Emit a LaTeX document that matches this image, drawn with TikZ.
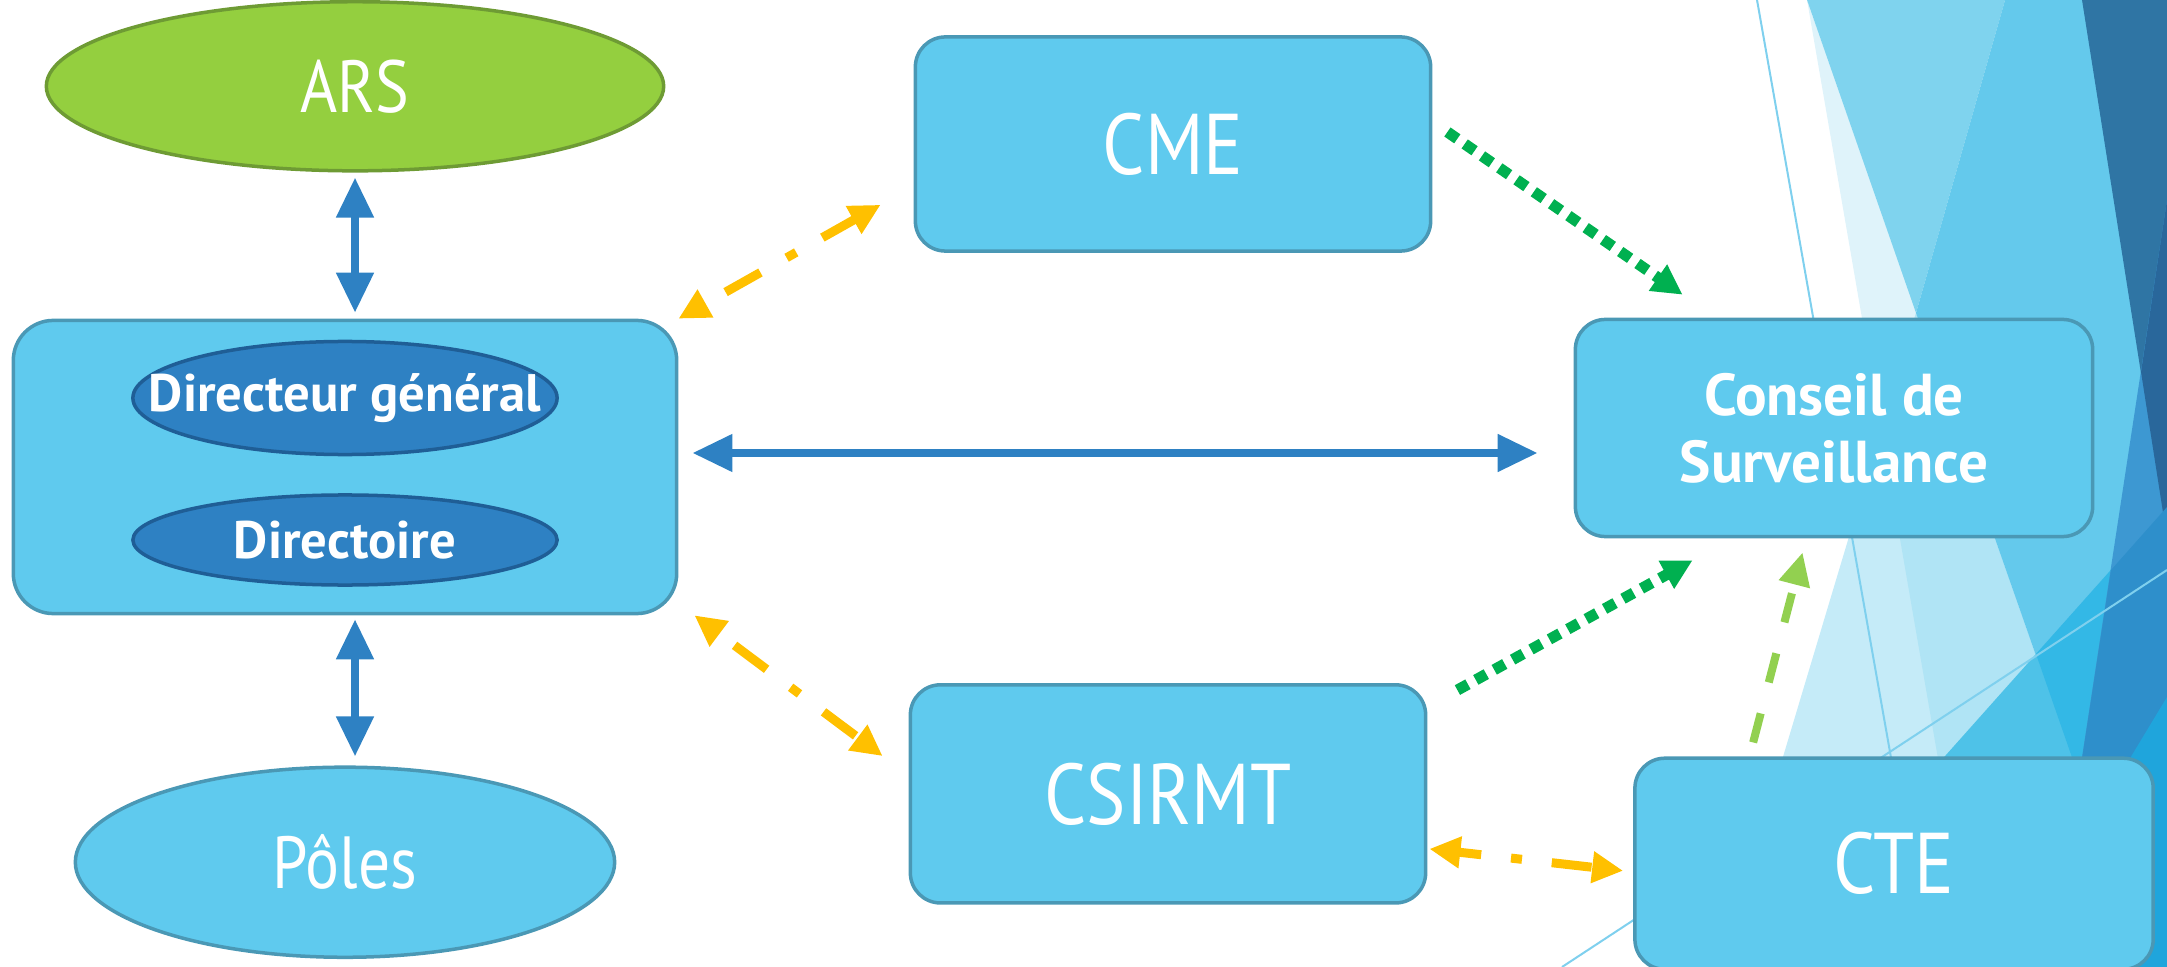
\documentclass[tikz,border=0pt]{standalone}
\usepackage{fontspec}
\setmainfont{PT Sans}
\newfontfamily\narrowfont[FakeStretch=0.86]{PT Sans}
\usetikzlibrary{arrows.meta, positioning, shapes.geometric, calc}
\definecolor{BoxFill}{HTML}{5FCAEE}
\definecolor{BoxBorder}{HTML}{4A98B5}
\definecolor{OvalFill}{HTML}{2E81C3}
\definecolor{OvalBorder}{HTML}{1F5E96}
\definecolor{ArsFill}{HTML}{94CF3F}
\definecolor{ArsBorder}{HTML}{6E9B34}
\definecolor{LinkBlue}{HTML}{2E81C3}
\definecolor{LinkYellow}{HTML}{FFC000}
\definecolor{LinkGreen}{HTML}{00B050}
\definecolor{LinkLime}{HTML}{92D050}
\definecolor{FacetPale}{HTML}{DFF3FA}
\definecolor{FacetUp}{HTML}{C5EBF8}
\definecolor{FacetMix}{HTML}{B0E4F5}
\definecolor{FacetLight}{HTML}{7FD3EE}
\definecolor{FacetMid}{HTML}{64C9EC}
\definecolor{FacetLow}{HTML}{4EC2E8}
\definecolor{FacetLowMid}{HTML}{33B8E6}
\definecolor{FacetDark}{HTML}{2F75A4}
\definecolor{FacetBand}{HTML}{3D98D2}
\definecolor{FacetDeep}{HTML}{29679B}
\definecolor{FacetBandLow}{HTML}{2E8FCB}
\definecolor{FacetCorner}{HTML}{1FA5DC}
\definecolor{FacetLine}{HTML}{7FD0EE}

\begin{document}
\begin{tikzpicture}[
    x=0.01cm, y=-0.01cm,
    box/.style = {rectangle, draw=BoxBorder, fill=BoxFill, rounded corners=0.3cm, line width=0.035cm, text=white, align=center, inner sep=0pt},
    bigbox/.style = {box, minimum width=5.15cm, minimum height=2.16cm, font=\narrowfont\fontsize{24.5pt}{28pt}\selectfont},
    oval/.style = {ellipse, draw=OvalBorder, fill=OvalFill, line width=0.035cm, inner sep=0pt, minimum width=4.24cm},
    ovaltext/.style = {text=white, font=\bfseries\fontsize{15pt}{18pt}\selectfont},
    blob/.style = {ellipse, line width=0.035cm, text=white, inner sep=0pt, font=\narrowfont\fontsize{21pt}{25pt}\selectfont},
    bluelink/.style = {draw=LinkBlue, line width=0.08cm, {Triangle[length=0.4cm,width=0.36cm]}-{Triangle[length=0.4cm,width=0.36cm]}},
    yellowlink/.style = {draw=LinkYellow, line width=0.09cm, dash pattern=on 0.4cm off 0.3cm on 0.11cm off 0.3cm, {Triangle[length=0.31cm,width=0.3cm]}-{Triangle[length=0.31cm,width=0.3cm]}},
    greenlink/.style = {draw=LinkGreen, line width=0.11cm, dash pattern=on 0.12cm off 0.09cm, -{Triangle[length=0.3cm,width=0.3cm]}},
    limelink/.style = {draw=LinkLime, line width=0.08cm, dash pattern=on 0.3cm off 0.32cm, -{Triangle[length=0.33cm,width=0.3cm]}}
]
    \useasboundingbox (0,0) rectangle (2167,967);

    % facet background on the right
    \fill[FacetPale] (1807,0) -- (1974,967) -- (2145,967) -- cycle;
    \fill[FacetUp] (1916,313) -- (2145,967) -- (1720,967) -- cycle;
    \fill[FacetMix] (1916,313) -- (1881,429) -- (1974,967) -- (2145,967) -- cycle;
    \fill[FacetLight] (1807,0) -- (2005,0) -- (1916,313) -- cycle;
    \fill[FacetMid] (2005,0) -- (2167,0) -- (2167,967) -- (2145,967) -- (1916,313) -- cycle;
    \fill[FacetLow] (2167,507) -- (1757,967) -- (2167,967) -- cycle;
    \fill[FacetLowMid] (2036,654) -- (2167,507) -- (2167,967) -- (2145,967) -- cycle;
    \fill[FacetDark] (2082,0) -- (2167,0) -- (2167,538) -- cycle;
    \fill[FacetBand] (2167,200) -- (2050,967) -- (2167,967) -- cycle;
    \fill[FacetDeep] (2167,200) -- (2141,372) -- (2167,538) -- cycle;
    \fill[FacetBandLow] (2111,570) -- (2050,967) -- (2167,967) -- (2167,507) -- cycle;
    \fill[FacetCorner] (2167,697) -- (2004,967) -- (2167,967) -- cycle;
    \draw[FacetLine, line width=0.02cm] (1757,0) -- (1928,967);
    \draw[FacetLine, line width=0.02cm] (1562,967) -- (2167,570);

    % nodes
    \node [box, minimum width=6.63cm, minimum height=2.93cm, rounded corners=0.4cm] (dir) at (345,467) {};
    \node [oval, minimum height=1.13cm, label={[ovaltext]center:Directeur général}] (dg) at (345,398) {};
    \node [oval, minimum height=0.9cm, label={[ovaltext]center:Directoire}] (dirtoire) at (345,540) {};
    \node [blob, draw=ArsBorder, fill=ArsFill, minimum width=6.17cm, minimum height=1.69cm, above=1.46cm of dir, xshift=0.1cm] (ars) {ARS};
    \node [blob, draw=BoxBorder, fill=BoxFill, minimum width=5.39cm, minimum height=1.9cm, below=1.5cm of dir] (poles) {Pôles};
    \node [bigbox, minimum height=2.14cm] (cme) at (1173,144) {CME};
    \node [bigbox, minimum height=2.18cm, below=4.3cm of cme, xshift=-0.05cm] (csirmt) {CSIRMT};
    \node [box, minimum width=5.17cm, minimum height=2.17cm, font=\bfseries\fontsize{16.8pt}{19pt}\selectfont] (conseil) at (1834,428) {Conseil de\\Surveillance};
    \node [bigbox, minimum width=5.18cm, minimum height=2.11cm, below=2.18cm of conseil, xshift=0.6cm] (cte) {CTE};

    % links
    \coordinate (midline) at (0,453);
    \draw [bluelink, shorten <=0.05cm, shorten >=0.06cm] (ars.south) -- (ars.south |- dir.north);
    \draw [bluelink, shorten <=0.04cm, shorten >=0.09cm] (ars.south |- dir.south) -- (ars.south |- poles.north);
    \draw [bluelink, shorten <=0.14cm, shorten >=0.36cm] (dir.east |- midline) -- (conseil.west |- midline);
    \draw [yellowlink, dash phase=0.86cm] (dir.north east) -- ($(cme.south west)+(-33,-48)$);
    \draw [yellowlink, dash phase=0.9cm] ($(dir.south east)+(16,0)$) -- ($(csirmt.north west)+(-26,73)$);
    \draw [yellowlink, dash phase=0.17cm] ($(csirmt.east)+(2,55)$) -- ($(cte.west)+(-10,7)$);
    \draw [greenlink] ($(cme.east)+(15,-12)$) -- ($(conseil.north west)+(109,-23)$);
    \draw [greenlink] ($(csirmt.north east)+(30,7)$) -- ($(conseil.south west)+(119,22)$);
    \draw [limelink] ($(cte.north west)+(120,-14)$) -- ($(conseil.south west)+(229,14)$);
\end{tikzpicture}
\end{document}
